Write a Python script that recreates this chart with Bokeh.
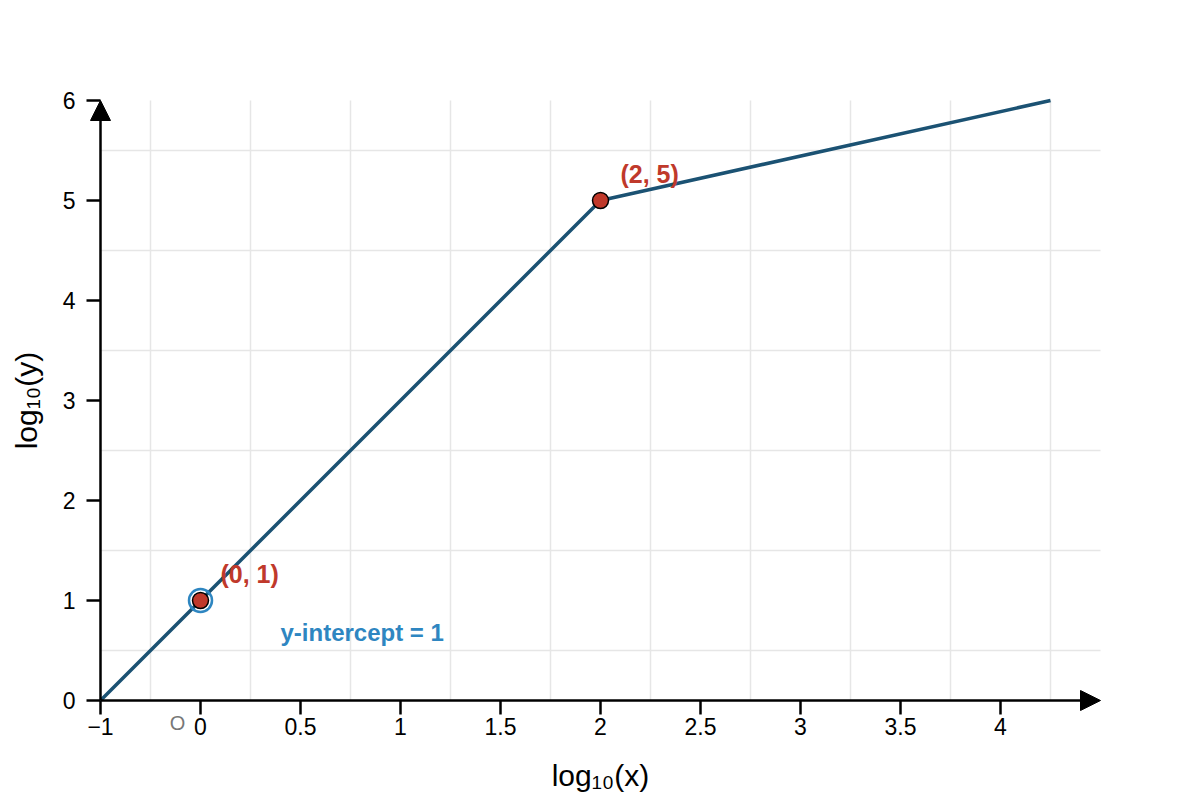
import math
from bokeh.plotting import figure
from bokeh.models import Range1d, Arrow, NormalHead, Label
from bokeh.embed import file_html
from bokeh.resources import INLINE

# Piecewise linear relationship on log-log axes
seg_x = [-0.5, 0, 2, 4.25]
seg_y = [0, 1, 5, 6]

# Marked points and their labels
pt_x = [0, 2]
pt_y = [1, 5]

# Axis extent, ticks and grid
x_min, x_max = -0.5, 4.5
y_min, y_max = 0, 6
x_ticks = [-0.5, 0, 0.5, 1, 1.5, 2, 2.5, 3, 3.5, 4]
x_tick_labels = ["\u22121", "0", "0.5", "1", "1.5", "2", "2.5", "3", "3.5", "4"]
y_ticks = [0, 1, 2, 3, 4, 5, 6]
y_tick_labels = ["0", "1", "2", "3", "4", "5", "6"]
x_grid = [-0.25, 0.25, 0.75, 1.25, 1.75, 2.25, 2.75, 3.25, 3.75, 4.25]
y_grid = [0.5, 1.5, 2.5, 3.5, 4.5, 5.5]

intercept = 1

FONT = "Liberation Sans"
LINE_COLOR = "#1b5273"
RED = "#c0392b"
BLUE = "#2e86c1"

# The whole canvas is the plotting frame; axes are drawn by hand so the
# arrowheads and labels around them are never cut off.
W, H = 1200, 800
view_x = (-1.0, 5.0)
view_y = (-1.0, 7.0)
PX_X = (view_x[1] - view_x[0]) / W   # data units per pixel
PX_Y = (view_y[1] - view_y[0]) / H

p = figure(width=W, height=H, output_backend="svg", toolbar_location=None,
           x_range=Range1d(*view_x), y_range=Range1d(*view_y),
           min_border=0)
p.axis.visible = False
p.grid.visible = False
p.outline_line_color = None
p.background_fill_color = "white"
p.border_fill_color = "white"

# Grid lines
grid_kw = dict(line_color="#e6e6e6", line_width=1.5)
p.segment(x0=x_grid, y0=[y_min] * len(x_grid), x1=x_grid, y1=[y_max] * len(x_grid), **grid_kw)
p.segment(x0=[x_min] * len(y_grid), y0=y_grid, x1=[x_max] * len(y_grid), y1=y_grid, **grid_kw)

# Axis lines with arrowheads
for xe, ye in ((x_min, y_max), (x_max, y_min)):
    p.add_layout(Arrow(end=NormalHead(size=20, fill_color="black", line_color="black",
                                      line_width=1),
                       x_start=x_min, y_start=y_min, x_end=xe, y_end=ye,
                       line_color="black", line_width=2.5))

# Tick marks
TICK = 14
p.segment(x0=x_ticks, y0=[y_min] * len(x_ticks), x1=x_ticks,
          y1=[y_min - TICK * PX_Y] * len(x_ticks), line_color="black", line_width=2.5)
p.segment(x0=[x_min] * len(y_ticks), y0=y_ticks, x1=[x_min - TICK * PX_X] * len(y_ticks),
          y1=y_ticks, line_color="black", line_width=2.5)

# Tick labels
p.text(x=x_ticks, y=[y_min - (TICK + 3) * PX_Y] * len(x_ticks), text=x_tick_labels,
       text_font={"value": FONT}, text_font_size="23px", text_color="black",
       text_align="center", text_baseline="top")
p.text(x=[x_min - (TICK + 11) * PX_X] * len(y_ticks), y=y_ticks, text=y_tick_labels,
       text_font={"value": FONT}, text_font_size="23px", text_color="black",
       text_align="right", text_baseline="middle")

# Axis titles
p.text(x=[(x_min + x_max) / 2], y=[y_min - 75 * PX_Y], text=["log\u2081\u2080(x)"],
       text_font={"value": FONT}, text_font_size="30px", text_color="black",
       text_align="center", text_baseline="middle")
p.text(x=[x_min - 74 * PX_X], y=[(y_min + y_max) / 2], text=["log\u2081\u2080(y)"],
       angle=math.pi / 2, text_font={"value": FONT}, text_font_size="30px",
       text_color="black", text_align="center", text_baseline="middle")

# Curve
p.line(seg_x, seg_y, line_color=LINE_COLOR, line_width=3.5)

# Highlight ring around the intercept
p.scatter([0], [intercept], size=23, fill_color=None, line_color=BLUE, line_width=2.5)

# Points
p.scatter(pt_x, pt_y, size=16, fill_color=RED, line_color="black", line_width=1.5)

for x, y in zip(pt_x, pt_y):
    p.add_layout(Label(x=x, y=y, x_offset=20, y_offset=27, text=f"({x}, {y})",
                       text_font=FONT, text_font_size="25px", text_font_style="bold",
                       text_color=RED, text_baseline="middle", text_align="left"))

p.add_layout(Label(x=0.4, y=0.68, text=f"y-intercept = {intercept}",
                   text_font=FONT, text_font_size="24px", text_font_style="bold",
                   text_color=BLUE, text_baseline="middle", text_align="left"))

# Origin marker just below the axis, left of the 0 tick
p.add_layout(Label(x=-0.115, y=-0.22, text="O", text_font=FONT,
                   text_font_size="20px", text_color="#777777",
                   text_baseline="middle", text_align="center"))

open("out.html", "w").write(file_html(p, INLINE))
